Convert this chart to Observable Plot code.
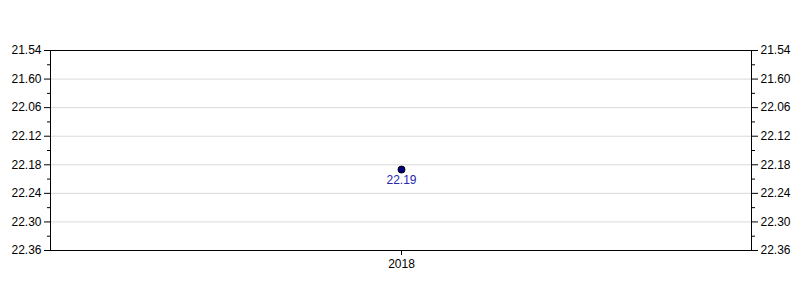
<!DOCTYPE html>
<html>
<head>
<meta charset="utf-8">
<script src="https://cdn.jsdelivr.net/npm/d3@7"></script>
<script src="https://cdn.jsdelivr.net/npm/@observablehq/plot@0.6"></script>
<style>
  body { margin: 0; background: #fff; }
</style>
</head>
<body>
<div id="chart"></div>
<script>
// Data (times in minutes.seconds)
const years = ["2018"];
const times = [22.19];
const timeLabels = ["22.19"];
// Y tick labels as shown (minutes.seconds format)
const tickLabels = ["21.54", "21.60", "22.06", "22.12", "22.18", "22.24", "22.30", "22.36"];
// Tick positions in seconds
const tickSeconds = [1314, 1320, 1326, 1332, 1338, 1344, 1350, 1356];
const minorSeconds = [1317, 1323, 1329, 1335, 1341, 1347, 1353];

const toSeconds = (v) => { const m = Math.floor(v); return m * 60 + Math.round((v - m) * 100); };
const data = years.map((y, i) => ({ year: y, sec: toSeconds(times[i]), label: timeLabels[i] }));
const labelOf = (s) => tickLabels[tickSeconds.indexOf(s)];

const chart = Plot.plot({
  width: 800,
  height: 300,
  marginLeft: 50,
  marginRight: 49,
  marginTop: 50,
  marginBottom: 50,
  style: { fontFamily: "Liberation Sans, Arial, sans-serif", fontSize: "12px", color: "#000", background: "#fff" },
  x: { type: "point", domain: years, label: null },
  y: { domain: [1314, 1356], reverse: true, label: null },
  marks: [
    Plot.gridY(tickSeconds, { stroke: "#d9d9d9", strokeOpacity: 1 }),
    Plot.frame({ stroke: "#000", strokeWidth: 1 }),
    Plot.axisY(tickSeconds, { anchor: "left", tickSize: 6, tickPadding: 3, tickFormat: labelOf, stroke: "#000", fill: "#000", fontSize: 12 }),
    Plot.axisY(minorSeconds, { anchor: "left", tickSize: 3, tickFormat: () => "", stroke: "#000" }),
    Plot.axisY(tickSeconds, { anchor: "right", tickSize: 6, tickPadding: 3, tickFormat: labelOf, stroke: "#000", fill: "#000", fontSize: 12 }),
    Plot.axisY(minorSeconds, { anchor: "right", tickSize: 3, tickFormat: () => "", stroke: "#000" }),
    Plot.axisX({ anchor: "bottom", tickSize: 5, tickPadding: 4, stroke: "#000", fill: "#000", fontSize: 12 }),
    Plot.dot(data, { x: "year", y: "sec", r: 3.5, fill: "#000080", stroke: "#000", strokeWidth: 1 }),
    Plot.text(data, { x: "year", y: "sec", text: "label", dy: 11, fill: "#2626b0", fontSize: 12 })
  ]
});
document.getElementById("chart").appendChild(chart);
</script>
</body>
</html>
